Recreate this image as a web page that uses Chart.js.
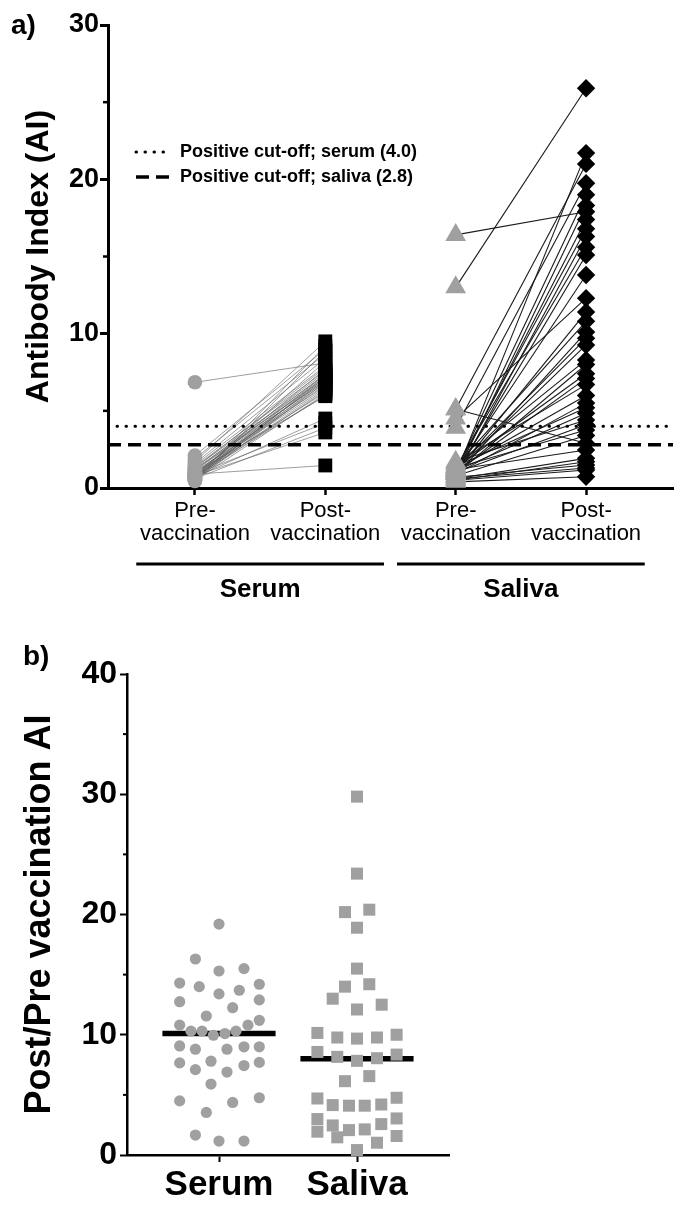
<!DOCTYPE html>
<html lang="en">
<head>
<meta charset="UTF-8">
<title>Antibody Index pre/post vaccination</title>
<script src="https://cdn.jsdelivr.net/npm/chart.js"></script>
<style>
  body { margin: 0; background: #fff; font-family: "Liberation Sans", Arial, sans-serif; }
  .page { position: relative; width: 685px; height: 1209px; overflow: hidden; }
  canvas { position: absolute; left: 0; display: block; }
  #chartA { top: 0; }
  #chartB { top: 625px; }
  .panel-label { position: absolute; font-weight: bold; font-size: 28px; line-height: 1; color: #000; }
</style>
</head>
<body>
<div class="page">
  <canvas id="chartA" width="685" height="625"></canvas>
  <canvas id="chartB" width="685" height="584"></canvas>
  <div class="panel-label" style="left:11px;top:11px">a)</div>
  <div class="panel-label" style="left:23px;top:642px">b)</div>
</div>

<script>
// ---- panel a: paired antibody index ----
const categoryLabels = [['Pre-', 'vaccination'], ['Post-', 'vaccination'], ['Pre-', 'vaccination'], ['Post-', 'vaccination']];
const groupNames = ['Serum', 'Saliva'];
const serumCutoff = 4.0;
const salivaCutoff = 2.8;

const serumPre = [6.85, 0.9, 2.1, 1.9, 1.7, 1.6, 1.5, 1.4, 1.35, 1.3, 1.25, 1.2, 1.15, 1.1, 1.05, 1.0, 1.0, 0.95, 0.95, 0.9,
                  0.9, 0.85, 0.85, 0.8, 0.8, 0.8, 0.75, 0.75, 0.7, 0.7, 0.7, 0.65, 0.65, 0.6, 0.6, 0.55, 0.55, 0.5, 0.5, 0.45];
const serumPost = [8.1, 1.46, 9.0, 8.7, 9.5, 8.4, 7.9, 7.6, 7.3, 7.8, 7.1, 6.9, 7.5, 7.2, 6.6, 7.0, 5.95, 6.8, 7.4, 4.2,
                   6.5, 7.7, 6.2, 3.6, 7.05, 6.7, 8.2, 6.0, 7.35, 6.4, 4.5, 6.95, 7.15, 6.3, 3.9, 7.25, 9.2, 6.1, 6.85, 8.9];
const salivaPre = [13.0, 0.9, 5.1, 3.9, 1.1, 0.8, 16.4, 1.0, 1.2, 0.7, 1.3, 0.9, 1.1, 4.5, 1.0, 1.4, 0.8, 1.2, 1.1, 1.5,
                   0.9, 1.3, 1.0, 1.6, 1.2, 0.9, 1.4, 1.1, 1.7, 1.0, 1.3, 0.8, 5.1, 1.2, 0.6, 0.5, 0.7, 0.6, 0.5, 0.4];
const salivaPost = [25.9, 21.7, 21.0, 19.75, 19.0, 18.3, 17.9, 17.4, 16.8, 16.3, 15.6, 15.1, 13.8, 12.3, 11.4, 10.8, 10.1, 9.7, 9.27, 8.3,
                    8.0, 7.4, 7.1, 6.7, 6.0, 5.5, 5.2, 4.84, 4.4, 4.1, 3.76, 3.4, 2.9, 2.46, 1.92, 1.7, 1.49, 1.3, 1.17, 0.73];

// ---- panel b: post/pre ratio ----
const serumRatio = [19.2, 16.3, 15.3, 15.5, 14.3, 14.0, 13.4, 13.7, 14.2, 12.75, 12.25, 12.9, 11.56, 10.8, 10.8, 11.2, 10.3, 10.3, 9.96, 10.1,
                    10.3, 9.07, 8.8, 8.8, 9.0, 9.0, 7.66, 7.1, 7.8, 6.9, 7.44, 7.7, 5.9, 4.5, 4.37, 4.76, 3.54, 1.66, 1.16, 1.16];
const serumJitter = [0, -0.171, 0, 0.181, -0.285, -0.143, 0, 0.147, 0.292, -0.285, 0.099, 0.292, -0.092, -0.285, 0.210, 0.292, -0.203, -0.123, -0.041, 0.043,
                     0.123, -0.285, -0.171, 0.058, 0.181, 0.292, -0.285, -0.171, -0.058, 0.058, 0.181, 0.292, -0.058, -0.285, 0.099, 0.292, -0.092, -0.171, 0, 0.181];
const salivaRatio = [29.8, 23.4, 20.2, 20.4, 18.9, 15.5, 14.0, 14.2, 13.0, 12.1, 12.5, 10.15, 9.77, 9.68, 9.77, 10.0, 8.57, 8.16, 7.83, 8.05,
                     8.35, 6.14, 6.56, 4.7, 4.15, 4.1, 4.1, 4.2, 4.76, 2.99, 2.46, 2.07, 2.13, 2.57, 3.04, 1.94, 1.47, 1.02, 1.58, 0.41];
const salivaJitter = [0, 0, -0.087, 0.089, 0, 0, -0.087, 0.089, -0.176, 0, 0.179, -0.287, -0.143, 0, 0.145, 0.287, -0.287, -0.143, 0, 0.145,
                      0.287, -0.087, 0.089, -0.287, -0.176, -0.058, 0.056, 0.176, 0.287, -0.287, -0.176, -0.058, 0.056, 0.176, 0.287, -0.287, -0.143, 0.145, 0.287, 0];
const serumMedian = 10.1;
const salivaMedian = 8.0;

const FONT = '"Liberation Sans", Arial, sans-serif';
const GREY = '#a0a0a0';
Chart.defaults.font.family = FONT;
Chart.defaults.color = '#000';

function minorTicks(axisId, values, len, width) {
    return {
        id: 'minor_' + axisId,
        afterDraw(chart) {
            const s = chart.scales[axisId];
            const ctx = chart.ctx;
            ctx.save();
            ctx.strokeStyle = '#000';
            ctx.lineWidth = width;
            values.forEach(v => {
                const y = s.getPixelForValue(v);
                ctx.beginPath();
                ctx.moveTo(s.right - len, y);
                ctx.lineTo(s.right, y);
                ctx.stroke();
            });
            ctx.restore();
        }
    };
}

// panel a
const xMinA = 1 / 3, xMaxA = 14 / 3;
const datasetsA = [];

serumPre.forEach((pre, i) => {
    datasetsA.push({
        data: [{ x: 1, y: pre }, { x: 2, y: serumPost[i] }],
        showLine: true, borderColor: 'rgba(95,95,95,0.6)', borderWidth: 1,
        pointRadius: 0, order: 3
    });
});
salivaPre.forEach((pre, i) => {
    datasetsA.push({
        data: [{ x: 3, y: pre }, { x: 4, y: salivaPost[i] }],
        showLine: true, borderColor: '#1a1a1a', borderWidth: 1.1,
        pointRadius: 0, order: 3
    });
});

const cutoffSerum = {
    label: 'Positive cut-off; serum (4.0)',
    data: [{ x: xMinA, y: serumCutoff }, { x: xMaxA, y: serumCutoff }],
    showLine: true, borderColor: '#000', borderWidth: 3, borderDash: [0.5, 8.5], borderCapStyle: 'round',
    pointRadius: 0, order: 2
};
const cutoffSaliva = {
    label: 'Positive cut-off; saliva (2.8)',
    data: [{ x: xMinA, y: salivaCutoff }, { x: xMaxA, y: salivaCutoff }],
    showLine: true, borderColor: '#000', borderWidth: 3.5, borderDash: [13, 7],
    pointRadius: 0, order: 2
};
datasetsA.push(cutoffSerum, cutoffSaliva);

datasetsA.push(
    { data: serumPre.map(v => ({ x: 1, y: v })), pointStyle: 'circle', pointRadius: 7.3, backgroundColor: GREY, borderWidth: 0, order: 1, clip: false },
    { data: serumPost.map(v => ({ x: 2, y: v })), pointStyle: 'rect', pointRadius: 9.8, backgroundColor: '#000', borderWidth: 0, order: 1, clip: false },
    { data: salivaPre.map(v => ({ x: 3, y: v })), pointStyle: 'triangle', pointRadius: 12, backgroundColor: GREY, borderWidth: 0, order: 1, clip: false },
    { data: salivaPost.map(v => ({ x: 4, y: v })), pointStyle: 'rectRot', pointRadius: 9.2, backgroundColor: '#000', borderWidth: 0, order: 1, clip: false }
);

const groupsPlugin = {
    id: 'groups',
    afterDraw(chart) {
        const x = chart.scales.x, ctx = chart.ctx, bottom = chart.chartArea.bottom;
        ctx.save();
        groupNames.forEach((name, i) => {
            const c = 1.5 + 2 * i;
            ctx.strokeStyle = '#000';
            ctx.lineWidth = 3;
            ctx.beginPath();
            ctx.moveTo(x.getPixelForValue(c - 0.95), bottom + 76);
            ctx.lineTo(x.getPixelForValue(c + 0.95), bottom + 76);
            ctx.stroke();
            ctx.fillStyle = '#000';
            ctx.font = 'bold 26px ' + FONT;
            ctx.textAlign = 'center';
            ctx.textBaseline = 'middle';
            ctx.fillText(name, x.getPixelForValue(c), bottom + 102);
        });
        ctx.restore();
    }
};

const legendPlugin = {
    id: 'cutoffLegend',
    afterDraw(chart) {
        const ctx = chart.ctx, left = chart.chartArea.left, top = chart.chartArea.top;
        ctx.save();
        [cutoffSerum, cutoffSaliva].forEach((ds, i) => {
            const y = top + 127 + i * 25;
            ctx.strokeStyle = ds.borderColor;
            ctx.lineWidth = ds.borderWidth;
            ctx.lineCap = ds.borderCapStyle || 'butt';
            ctx.setLineDash(ds.borderDash);
            ctx.beginPath();
            ctx.moveTo(left + 28, y);
            ctx.lineTo(left + 64, y);
            ctx.stroke();
            ctx.setLineDash([]);
            ctx.fillStyle = '#000';
            ctx.font = 'bold 18px ' + FONT;
            ctx.textAlign = 'left';
            ctx.textBaseline = 'middle';
            ctx.fillText(ds.label, left + 72, y);
        });
        ctx.restore();
    }
};

new Chart('chartA', {
    type: 'scatter',
    data: { datasets: datasetsA },
    options: {
        responsive: false,
        animation: false,
        layout: { padding: { top: 25, right: 4, bottom: 0, left: 0 } },
        plugins: { legend: { display: false }, tooltip: { enabled: false } },
        scales: {
            x: {
                type: 'linear', min: xMinA, max: xMaxA,
                afterBuildTicks: s => { s.ticks = [1, 2, 3, 4].map(v => ({ value: v })); },
                afterFit: s => { s.height = 137; },
                ticks: {
                    callback: (v, i) => categoryLabels[i],
                    font: { size: 22, lineHeight: 1.05 }, color: '#000', padding: 4, maxRotation: 0, autoSkip: false
                },
                grid: { drawOnChartArea: false, drawTicks: true, tickLength: 7, tickWidth: 2.5, tickColor: '#000', color: '#000' },
                border: { color: '#000', width: 3 }
            },
            y: {
                min: 0, max: 30,
                afterBuildTicks: s => { s.ticks = [0, 10, 20, 30].map(v => ({ value: v })); },
                afterFit: s => { s.width = 108; },
                ticks: { font: { size: 27, weight: 'bold' }, color: '#000', padding: 1 },
                grid: { drawOnChartArea: false, drawTicks: true, tickLength: 8, tickWidth: 3, tickColor: '#000', color: '#000' },
                border: { color: '#000', width: 3 },
                title: { display: true, text: 'Antibody Index (AI)', font: { size: 32, weight: 'bold' }, color: '#000', padding: { top: 20, bottom: 0 } }
            }
        }
    },
    plugins: [minorTicks('y', [5, 15, 25], 5, 2.5), groupsPlugin, legendPlugin]
});

// panel b
const medianHalfWidth = 0.41;
const datasetsB = [
    {
        data: [{ x: 1 - medianHalfWidth, y: serumMedian }, { x: 1 + medianHalfWidth, y: serumMedian }],
        showLine: true, borderColor: '#000', borderWidth: 5.5, pointRadius: 0, order: 2
    },
    {
        data: [{ x: 2 - medianHalfWidth, y: salivaMedian }, { x: 2 + medianHalfWidth, y: salivaMedian }],
        showLine: true, borderColor: '#000', borderWidth: 5.5, pointRadius: 0, order: 2
    },
    {
        data: serumRatio.map((v, i) => ({ x: 1 + serumJitter[i], y: v })),
        pointStyle: 'circle', pointRadius: 5.6, backgroundColor: GREY, borderWidth: 0, order: 1, clip: false
    },
    {
        data: salivaRatio.map((v, i) => ({ x: 2 + salivaJitter[i], y: v })),
        pointStyle: 'rect', pointRadius: 8.5, backgroundColor: GREY, borderWidth: 0, order: 1, clip: false
    }
];

new Chart('chartB', {
    type: 'scatter',
    data: { datasets: datasetsB },
    options: {
        responsive: false,
        animation: false,
        layout: { padding: { top: 49, right: 236, bottom: 0, left: 0 } },
        plugins: { legend: { display: false }, tooltip: { enabled: false } },
        scales: {
            x: {
                type: 'linear', min: 1 / 3, max: 8 / 3,
                afterBuildTicks: s => { s.ticks = [1, 2].map(v => ({ value: v })); },
                afterFit: s => { s.height = 54; },
                ticks: {
                    callback: (v, i) => groupNames[i],
                    font: { size: 35, weight: 'bold' }, color: '#000', padding: 2, maxRotation: 0, autoSkip: false
                },
                grid: { drawOnChartArea: false, drawTicks: true, tickLength: 7, tickWidth: 2, tickColor: '#000', color: '#000' },
                border: { color: '#000', width: 2.5 }
            },
            y: {
                min: 0, max: 40,
                afterBuildTicks: s => { s.ticks = [0, 10, 20, 30, 40].map(v => ({ value: v })); },
                afterFit: s => { s.width = 127; },
                ticks: { font: { size: 32, weight: 'bold' }, color: '#000', padding: 3 },
                grid: { drawOnChartArea: false, drawTicks: true, tickLength: 7, tickWidth: 2, tickColor: '#000', color: '#000' },
                border: { color: '#000', width: 2.5 },
                title: { display: true, text: 'Post/Pre vaccination AI', font: { size: 36, weight: 'bold' }, color: '#000', padding: { top: 18, bottom: 0 } }
            }
        }
    },
    plugins: [minorTicks('y', [5, 15, 25, 35], 4, 2)]
});
</script>
</body>
</html>
